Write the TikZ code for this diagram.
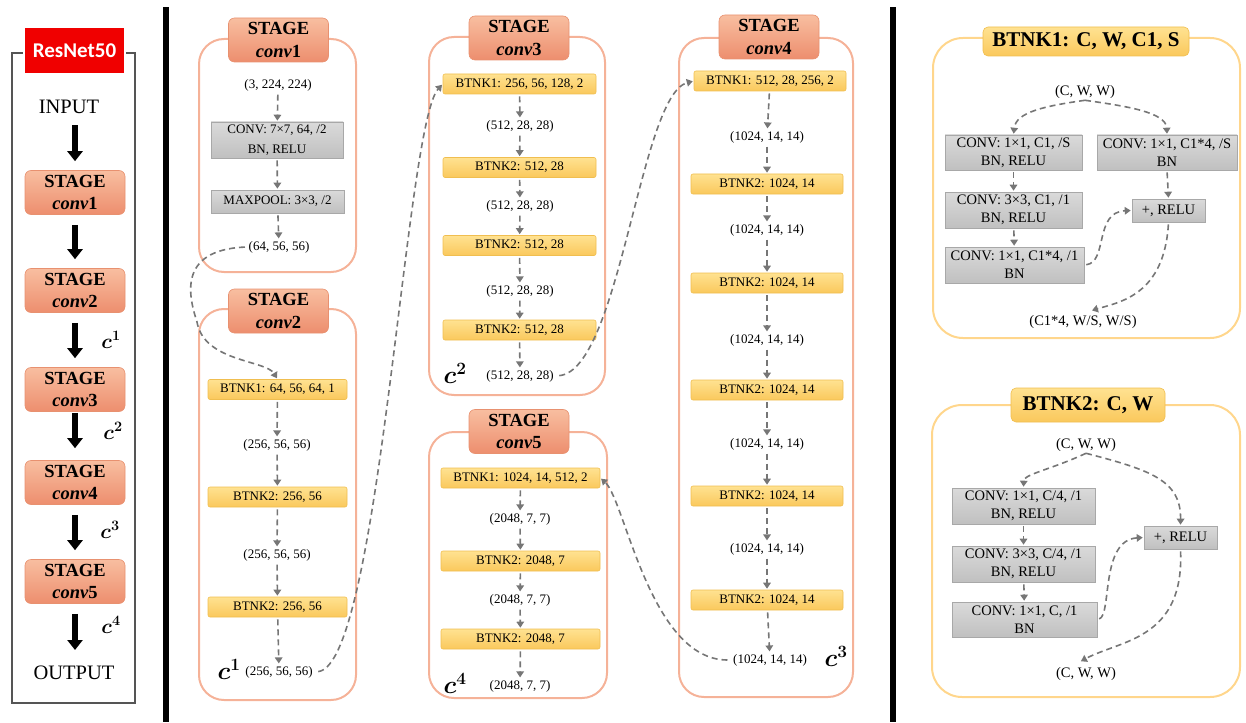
\documentclass[tikz,border=0pt]{standalone}
\usepackage{fontspec}
\setmainfont{LiberationSerif}[Extension=.ttf, UprightFont=*-Regular, BoldFont=*-Bold,
  ItalicFont=*-Italic, BoldItalicFont=*-BoldItalic]
\newfontfamily\labelsans{Carlito}
\usetikzlibrary{arrows.meta,calc}

\definecolor{stageedge}{RGB}{245,178,152}
\definecolor{stagetitleedge}{RGB}{232,145,112}
\definecolor{stagetop}{RGB}{248,190,160}
\definecolor{stagebot}{RGB}{237,142,110}
\definecolor{btnkedge}{RGB}{240,190,80}
\definecolor{btnktop}{RGB}{255,226,145}
\definecolor{btnkbot}{RGB}{250,200,92}
\definecolor{panelyellow}{RGB}{255,214,140}
\definecolor{grayedge}{RGB}{168,168,168}
\definecolor{graytop}{RGB}{218,218,218}
\definecolor{graybot}{RGB}{192,192,192}
\definecolor{flowgray}{RGB}{118,118,118}
\definecolor{framegray}{RGB}{85,85,85}
\definecolor{netred}{RGB}{240,0,0}

\begin{document}
\begin{tikzpicture}[x=1pt,y=-1pt,
  dim/.style={font=\fontsize{13}{15}\selectfont, inner sep=1.5pt},
  bigdim/.style={font=\fontsize{14.5}{17}\selectfont, inner sep=1.5pt},
  graybox/.style={draw=grayedge, line width=0.6pt, top color=graytop, bottom color=graybot,
    inner sep=0pt, align=center, font=\fontsize{13}{20}\selectfont},
  bgraybox/.style={graybox, font=\fontsize{14.5}{18}\selectfont},
  btnkbox/.style={draw=btnkedge, line width=0.6pt, top color=btnktop, bottom color=btnkbot,
    rounded corners=2pt, inner sep=0pt, minimum height=20pt, font=\fontsize{13}{15}\selectfont},
  stagetitle/.style={draw=stagetitleedge, line width=0.6pt, top color=stagetop, bottom color=stagebot,
    rounded corners=6pt, minimum width=100pt, minimum height=44pt, inner sep=0pt, align=center,
    font=\fontsize{18.5}{22.5}\selectfont\bfseries},
  stagepanel/.style={draw=stageedge, line width=2pt, rounded corners=25pt},
  btnkpanel/.style={draw=panelyellow, line width=2pt, rounded corners=30pt},
  btnktitle/.style={draw=btnkedge, line width=0.6pt, top color=btnktop, bottom color=btnkbot,
    rounded corners=5pt, inner sep=0pt, font=\fontsize{21}{25}\selectfont\bfseries},
  flow/.style={draw=flowgray, line width=1.6pt, dash pattern=on 6pt off 4pt,
    -{Triangle[width=7.5pt,length=6pt]}, shorten <=2pt, shorten >=1pt},
  bigarrow/.style={line width=6pt, -{Triangle[width=15pt,length=10pt]}, shorten <=10pt, shorten >=9pt},
  ctag/.style={inner sep=0pt, font=\fontsize{26}{30}\selectfont\boldmath},
  sctag/.style={inner sep=0pt, font=\fontsize{22}{26}\selectfont\boldmath},
]
\useasboundingbox (0,0) rectangle (1246,722);

% separators between the three parts
\fill[black] (163,7) rectangle (169,722);
\fill[black] (890,7) rectangle (896,722);

% ---------------- overview column ----------------
\draw[framegray, line width=2.5pt] (12,53) rectangle (135,703);
\node[fill=netred, draw=white, line width=2pt, minimum width=101pt, minimum height=47pt,
  text=white, font=\labelsans\fontsize{21}{24}\selectfont\bfseries] (net) at (74.5,50.5) {ResNet50};
\node[font=\fontsize{20.5}{24}\selectfont, inner sep=1pt] (inp) at (69,107) {INPUT};
\node[stagetitle] (s1) at (75,192.5) {STAGE\\\textit{conv}1};
\node[stagetitle] (s2) at (75,290.5) {STAGE\\\textit{conv}2};
\node[stagetitle] (s3) at (75,389.5) {STAGE\\\textit{conv}3};
\node[stagetitle] (s4) at (75,482.5) {STAGE\\\textit{conv}4};
\node[stagetitle] (s5) at (75,581.5) {STAGE\\\textit{conv}5};
\node[font=\fontsize{20.5}{24}\selectfont, inner sep=1pt] (outp) at (74,673) {OUTPUT};
\draw[bigarrow] (inp.south -| s1.north) -- (s1);
\draw[bigarrow] (s1) -- (s2);
\draw[bigarrow] (s2) -- (s3);
\draw[bigarrow, shorten <=1pt, shorten >=12pt] (s3) -- (s4);
\draw[bigarrow] (s4) -- (s5);
\draw[bigarrow, shorten >=23pt] (s5) -- (s5 |- outp);
\node[sctag] (oc1) at (111,340) {$c^{1}$};
\node[sctag] (oc2) at (113,431) {$c^{2}$};
\node[sctag] (oc3) at (110,530) {$c^{3}$};
\node[sctag] (oc4) at (111,625) {$c^{4}$};

% ---------------- stage conv1 ----------------
\draw[stagepanel] (199,39) rectangle (356,272);
\node[stagetitle] (t1) at (278.5,40) {STAGE\\\textit{conv}1};
\node[dim] (a0) at (278,85) {(3, 224, 224)};
\node[graybox, minimum width=132pt, minimum height=36pt] (a1) at (277,140) {CONV: 7×7, 64, /2\\BN, RELU};
\node[graybox, minimum width=133pt, minimum height=23pt] (a2) at (277.5,201.5) {MAXPOOL: 3×3, /2};
\node[dim] (a3) at (279,247) {(64, 56, 56)};
\draw[flow] (a0) -- (a1);
\draw[flow] (a1) -- (a2);
\draw[flow] (a2) -- (a3);

% ---------------- stage conv2 ----------------
\draw[stagepanel] (199,309) rectangle (356,700);
\node[stagetitle] (t2) at (278.5,311) {STAGE\\\textit{conv}2};
\node[btnkbox, minimum width=139pt] (b1) at (277.5,389.5) {BTNK1: 64, 56, 64, 1};
\node[dim] (b2) at (277,445) {(256, 56, 56)};
\node[btnkbox, minimum width=139pt] (b3) at (277.5,497) {BTNK2: 256, 56};
\node[dim] (b4) at (277,555) {(256, 56, 56)};
\node[btnkbox, minimum width=139pt] (b5) at (277.5,607) {BTNK2: 256, 56};
\node[dim] (b6) at (279,672) {(256, 56, 56)};
\node[ctag] (c1) at (229,669) {$c^{1}$};
\draw[flow] (b1) -- (b2);
\draw[flow] (b2) -- (b3);
\draw[flow] (b3) -- (b4);
\draw[flow] (b4) -- (b5);
\draw[flow] (b5) -- (b6);

% ---------------- stage conv3 ----------------
\draw[stagepanel] (429,37) rectangle (605,395);
\node[stagetitle] (t3) at (519,38) {STAGE\\\textit{conv}3};
\node[btnkbox, minimum width=153pt] (d1) at (519.5,84) {BTNK1: 256, 56, 128, 2};
\node[dim] (d2) at (520,126) {(512, 28, 28)};
\node[btnkbox, minimum width=153pt] (d3) at (519.5,167.5) {BTNK2: 512, 28};
\node[dim] (d4) at (520,206) {(512, 28, 28)};
\node[btnkbox, minimum width=153pt] (d5) at (519.5,245.5) {BTNK2: 512, 28};
\node[dim] (d6) at (520,291) {(512, 28, 28)};
\node[btnkbox, minimum width=153pt] (d7) at (519.5,330) {BTNK2: 512, 28};
\node[dim] (d8) at (520,376) {(512, 28, 28)};
\node[ctag] (c2) at (455,373) {$c^{2}$};
\draw[flow] (d1) -- (d2);
\draw[flow] (d2) -- (d3);
\draw[flow] (d3) -- (d4);
\draw[flow] (d4) -- (d5);
\draw[flow] (d5) -- (d6);
\draw[flow] (d6) -- (d7);
\draw[flow] (d7) -- (d8);

% ---------------- stage conv5 ----------------
\draw[stagepanel] (429,432) rectangle (607,698);
\node[stagetitle] (t5) at (519,431.5) {STAGE\\\textit{conv}5};
\node[btnkbox, minimum width=159pt] (f1) at (520.5,478) {BTNK1: 1024, 14, 512, 2};
\node[dim] (f2) at (520,519) {(2048, 7, 7)};
\node[btnkbox, minimum width=159pt] (f3) at (520.5,561) {BTNK2: 2048, 7};
\node[dim] (f4) at (520,600) {(2048, 7, 7)};
\node[btnkbox, minimum width=159pt] (f5) at (520.5,639) {BTNK2: 2048, 7};
\node[dim] (f6) at (520,686) {(2048, 7, 7)};
\node[ctag] (c4) at (455,683) {$c^{4}$};
\draw[flow] (f1) -- (f2);
\draw[flow] (f2) -- (f3);
\draw[flow] (f3) -- (f4);
\draw[flow] (f4) -- (f5);
\draw[flow] (f5) -- (f6);

% ---------------- stage conv4 ----------------
\draw[stagepanel] (679,38) rectangle (853,697);
\node[stagetitle] (t4) at (769,37) {STAGE\\\textit{conv}4};
\node[btnkbox, minimum width=152pt] (e1) at (770,81) {BTNK1: 512, 28, 256, 2};
\node[dim] (e2) at (767,137) {(1024, 14, 14)};
\node[btnkbox, minimum width=152pt] (e3) at (767,184) {BTNK2: 1024, 14};
\node[dim] (e4) at (767,230) {(1024, 14, 14)};
\node[btnkbox, minimum width=152pt] (e5) at (767,283) {BTNK2: 1024, 14};
\node[dim] (e6) at (767,340) {(1024, 14, 14)};
\node[btnkbox, minimum width=152pt] (e7) at (767,390) {BTNK2: 1024, 14};
\node[dim] (e8) at (767,444) {(1024, 14, 14)};
\node[btnkbox, minimum width=152pt] (e9) at (767,496) {BTNK2: 1024, 14};
\node[dim] (e10) at (767,549) {(1024, 14, 14)};
\node[btnkbox, minimum width=152pt] (e11) at (767,600) {BTNK2: 1024, 14};
\node[dim] (e12) at (770,660) {(1024, 14, 14)};
\node[ctag] (c3) at (836,656) {$c^{3}$};
\draw[flow] (e1) -- (e2);
\draw[flow] (e2) -- (e3);
\draw[flow] (e3) -- (e4);
\draw[flow] (e4) -- (e5);
\draw[flow] (e5) -- (e6);
\draw[flow] (e6) -- (e7);
\draw[flow] (e7) -- (e8);
\draw[flow] (e8) -- (e9);
\draw[flow] (e9) -- (e10);
\draw[flow] (e10) -- (e11);
\draw[flow] (e11) -- (e12);

% ---------------- links between stages ----------------
\draw[flow] (a3.west) .. controls (175,250) and (190,300) .. (197,322)
  .. controls (204,362) and (266,360) .. (b1.north);
\draw[flow, shorten <=4pt] (b6.east) .. controls (380,665) and (405,125) .. (d1.west);
\draw[flow, shorten <=4pt] (d8.east) .. controls (620,370) and (640,95) .. (e1.west);
\draw[flow, shorten <=4pt] (e12.west) .. controls (650,660) and (625,500) .. (f1.east);

% ---------------- bottleneck BTNK1 ----------------
\draw[btnkpanel] (933,38) rectangle (1240,338);
\node[btnktitle, minimum width=206pt, minimum height=29pt] (g0) at (1086,41.5) {BTNK1: C, W, C1, S};
\node[bigdim] (gi) at (1085,92) {(C, W, W)};
\node[bgraybox, minimum width=137pt, minimum height=35pt] (g1) at (1013.5,152.5) {CONV: 1×1, C1, /S\\BN, RELU};
\node[bgraybox, minimum width=140pt, minimum height=35pt] (g4) at (1167,152.5) {CONV: 1×1, C1*4, /S\\BN};
\node[bgraybox, minimum width=137pt, minimum height=36pt] (g2) at (1013.5,210) {CONV: 3×3, C1, /1\\BN, RELU};
\node[bgraybox, minimum width=139pt, minimum height=36pt] (g3) at (1014.5,265) {CONV: 1×1, C1*4, /1\\BN};
\node[bgraybox, minimum width=73pt, minimum height=23pt] (gp) at (1168.5,210.5) {+, RELU};
\node[bigdim] (go) at (1083,322) {(C1*4, W/S, W/S)};
\draw[flow, shorten <=0pt] (gi.south) .. controls (1045,106) and (1016,112) .. (g1.north);
\draw[flow, shorten <=0pt] (gi.south) .. controls (1125,106) and (1166,112) .. (g4.north);
\draw[flow] (g1) -- (g2);
\draw[flow] (g2) -- (g3);
\draw[flow] (g4.south) -- (gp.north);
\draw[flow] (g3.east) .. controls (1108,262) and (1094,212) .. (gp.west);
\draw[flow] (gp.south) .. controls (1164,295) and (1120,302) .. ($(go.north)+(8,-3)$);

% ---------------- bottleneck BTNK2 ----------------
\draw[btnkpanel] (932,405) rectangle (1240,697);
\node[btnktitle, minimum width=154pt, minimum height=34pt] (h0) at (1088,405) {BTNK2: C, W};
\node[bigdim] (hi) at (1086,445) {(C, W, W)};
\node[bgraybox, minimum width=143pt, minimum height=36pt] (h1) at (1023.5,506) {CONV: 1×1, C/4, /1\\BN, RELU};
\node[bgraybox, minimum width=143pt, minimum height=36pt] (h2) at (1023.5,564) {CONV: 3×3, C/4, /1\\BN, RELU};
\node[bgraybox, minimum width=145pt, minimum height=35pt] (h3) at (1024.5,619.5) {CONV: 1×1, C, /1\\BN};
\node[bgraybox, minimum width=73pt, minimum height=23pt] (hp) at (1180.5,537.5) {+, RELU};
\node[bigdim] (ho) at (1086,674) {(C, W, W)};
\draw[flow, shorten <=0pt] (hi.south) .. controls (1050,470) and (1024,474) .. (h1.north);
\draw[flow, shorten <=0pt] (hi.south) .. controls (1150,470) and (1181,480) .. (hp.north);
\draw[flow] (h1) -- (h2);
\draw[flow] (h2) -- (h3);
\draw[flow] (h3.east) .. controls (1112,615) and (1100,540) .. (hp.west);
\draw[flow] (hp.south) .. controls (1184,640) and (1120,640) .. ($(ho.north)+(-6,-4)$);
\end{tikzpicture}
\end{document}
